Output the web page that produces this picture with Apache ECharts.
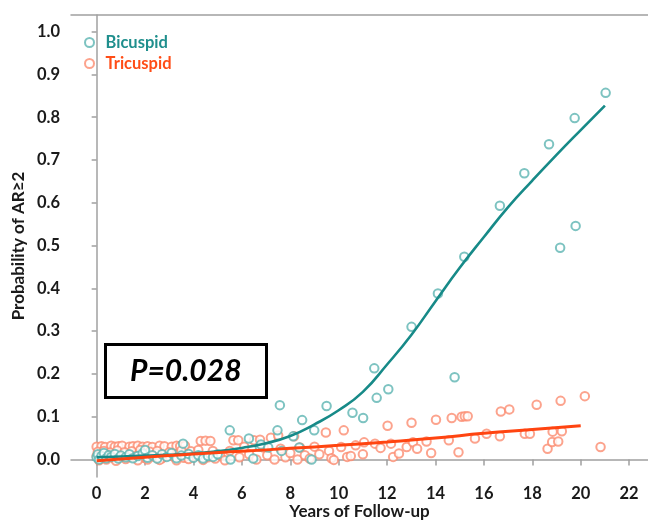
<!DOCTYPE html>
<html>
<head>
<meta charset="utf-8">
<script src="https://cdn.jsdelivr.net/npm/echarts@6/dist/echarts.min.js"></script>
<style>
  html, body { margin: 0; padding: 0; background: #fff; }
  #chart { width: 648px; height: 520px; }
</style>
</head>
<body>
<div id="chart"></div>
<script>
// tick labels
var xTicks = [0, 2, 4, 6, 8, 10, 12, 14, 16, 18, 20, 22];
var yTicks = [0, 0.1, 0.2, 0.3, 0.4, 0.5, 0.6, 0.7, 0.8, 0.9, 1.0];

// observed points [years, probability]
var bicuspidPts = [
  [0.0,0.005],[0.05,0.012],[0.1,0.000],[0.2,0.008],[0.3,0.015],[0.4,0.003],[0.5,0.010],[0.6,0.006],
  [0.75,0.013],[0.9,0.002],[1.0,0.009],[1.2,0.005],[1.35,0.012],[1.5,0.003],[1.7,0.008],[1.9,0.014],
  [2.0,0.022],[2.1,0.004],[2.3,0.010],[2.5,0.002],[2.7,0.012],[2.9,0.006],[3.1,0.015],[3.3,0.003],
  [3.5,0.009],[3.57,0.037],[3.8,0.013],[4.0,0.004],[4.2,0.010],[4.4,0.002],[4.6,0.008],[4.81,0.006],
  [5.0,0.012],[5.5,0.068],[5.53,0.000],[6.29,0.049],[6.47,0.002],[6.74,0.030],[6.79,0.035],[7.09,0.028],
  [7.47,0.068],[7.57,0.127],[7.64,0.020],[8.12,0.054],[8.37,0.028],[8.49,0.092],[8.88,0.000],[8.99,0.068],
  [9.50,0.125],[10.57,0.109],[11.01,0.097],[11.47,0.213],[11.57,0.144],[12.05,0.164],[13.01,0.310],
  [14.10,0.388],[14.79,0.192],[15.19,0.474],[16.66,0.593],[17.67,0.669],[18.69,0.737],[19.15,0.495],
  [19.75,0.798],[19.79,0.546],[21.03,0.857]
];
var tricuspidPts = [
  [0.0,0.030],[0.2,0.031],[0.35,0.029],[0.6,0.032],[0.75,0.030],[0.9,0.031],[1.05,0.032],[1.35,0.030],
  [1.5,0.031],[1.7,0.032],[1.9,0.030],[2.1,0.031],[2.3,0.029],[2.6,0.032],[2.8,0.031],[3.1,0.030],
  [3.3,0.032],[3.45,0.031],[3.65,0.032],[4.3,0.043],[4.5,0.044],[4.7,0.043],
  [0.05,0.018],[0.3,0.020],[0.55,0.016],[0.85,0.021],[1.15,0.017],[1.45,0.019],[1.8,0.022],[2.2,0.018],
  [2.5,0.020],[3.0,0.017],[3.5,0.021],[3.9,0.019],[4.2,0.022],[4.8,0.020],
  [0.0,0.008],[0.25,0.006],[0.5,0.009],[0.7,0.004],[1.0,0.007],[1.3,0.005],[1.6,0.008],[1.95,0.004],
  [2.35,0.007],[2.7,0.003],[3.2,0.006],[3.6,0.004],[4.0,0.007],[4.6,0.005],
  [0.1,-0.002],[0.4,0.000],[0.8,-0.003],[1.2,0.001],[1.7,-0.002],[2.1,0.000],[2.6,-0.001],[3.3,-0.002],
  [3.8,0.001],[4.4,-0.001],[4.9,0.002],
  [5.1,0.010],[5.3,-0.002],[5.5,0.020],[5.65,0.045],[5.85,0.045],[5.9,0.005],[6.1,0.030],[6.3,0.012],
  [6.5,0.045],[6.6,0.000],[6.75,0.046],[6.9,0.028],[7.05,0.010],[7.2,0.051],[7.35,0.000],[7.5,0.056],
  [7.6,0.025],[7.8,0.005],[8.0,0.015],[8.16,0.054],[8.3,0.000],[8.4,0.028],[8.6,0.010],[8.8,0.002],
  [9.0,0.030],[9.2,0.012],[9.47,0.063],[9.6,0.020],[9.7,0.003],[9.8,-0.001],
  [10.1,0.029],[10.21,0.068],[10.35,0.006],[10.5,0.008],[10.7,0.033],[11.0,0.012],[11.05,0.040],
  [11.5,0.037],[11.73,0.027],[12.02,0.079],[12.16,0.037],[12.25,0.006],[12.49,0.014],[12.81,0.029],
  [13.01,0.086],[13.07,0.040],[13.24,0.025],[13.63,0.042],[13.82,0.015],[14.02,0.093],[14.55,0.045],
  [14.67,0.097],[14.95,0.017],[15.08,0.100],[15.21,0.101],[15.33,0.101],[15.63,0.049],[16.11,0.060],
  [16.66,0.054],[16.70,0.112],[17.05,0.117],[17.69,0.060],[17.9,0.060],[18.18,0.128],[18.63,0.025],
  [18.82,0.041],[18.84,0.065],[19.07,0.042],[19.17,0.137],[19.22,0.066],[20.17,0.148],[20.82,0.029]
];

// fitted curves
var bicuspidFit = [
  [0,0.005],[1,0.007],[2,0.009],[3,0.011],[4,0.014],[5,0.019],[6,0.027],[7,0.038],[8,0.055],
  [9,0.082],[10,0.115],[11,0.158],[12,0.222],[13,0.291],[14,0.370],[15,0.448],[16,0.520],
  [17,0.590],[18,0.652],[19,0.712],[20,0.770],[21,0.827]
];
var tricuspidFit = [
  [0,-0.003],[2,0.005],[4,0.013],[6,0.019],[8,0.026],[10,0.033],[12,0.041],[14,0.050],
  [16,0.061],[18,0.070],[20,0.079]
];

var pText = 'P=0.028';

var chart = echarts.init(document.getElementById('chart'));

var axisGrey = '#a0a0a0';
var labelFont = { fontFamily: 'Lato', fontWeight: 'bold', fontSize: 16.5, color: '#1a1a1a' };
var nameFont = { fontFamily: 'Lato', fontWeight: 'bold', fontSize: 17, color: '#1a1a1a' };

var option = {
  animation: false,
  backgroundColor: '#fff',
  grid: { left: 71, top: 15, right: 0, bottom: 43, outerBoundsMode: 'none', containLabel: false },
  title: {
    text: pText,
    left: 105, top: 344,
    padding: [9, 25],
    borderColor: '#000', borderWidth: 3,
    textStyle: { fontFamily: 'Lato', fontWeight: 'bold', fontStyle: 'italic', fontSize: 30, lineHeight: 36, color: '#000' }
  },
  legend: {
    orient: 'vertical',
    left: 79, top: 29,
    itemWidth: 22, itemHeight: 9, itemGap: 4,
    textStyle: { fontFamily: 'Lato', fontWeight: 'bold', fontSize: 16.5 },
    data: [
      { name: 'Bicuspid', textStyle: { color: '#1f8f8d' } },
      { name: 'Tricuspid', textStyle: { color: '#ff4d17' } }
    ]
  },
  xAxis: [{
    type: 'value',
    min: -1.06, max: 22.78,
    name: 'Years of Follow-up',
    nameLocation: 'middle', nameGap: 26, nameMoveOverlap: false,
    nameTextStyle: nameFont,
    axisLine: { lineStyle: { color: axisGrey, width: 1.5 } },
    axisTick: { show: true, length: 6, lineStyle: { color: axisGrey, width: 1.5 }, customValues: xTicks },
    axisLabel: Object.assign({ margin: 8, customValues: xTicks }, labelFont),
    splitLine: { show: false }
  }, {
    type: 'value', position: 'top',
    min: -1.06, max: 22.78,
    axisLine: { show: true, lineStyle: { color: axisGrey, width: 1.5 } },
    axisTick: { show: false }, axisLabel: { show: false }, splitLine: { show: false }
  }],
  yAxis: {
    type: 'value',
    min: -0.041, max: 1.039,
    name: 'Probability of AR\u22652',
    nameLocation: 'middle', nameGap: 44, nameMoveOverlap: false,
    nameTextStyle: nameFont,
    axisLine: { show: true, lineStyle: { color: axisGrey, width: 1.5 } },
    axisTick: { show: true, length: 5, lineStyle: { color: axisGrey, width: 1.5 }, customValues: yTicks },
    axisLabel: Object.assign({ margin: 11, customValues: yTicks, formatter: function (v) { return v.toFixed(1); } }, labelFont),
    splitLine: { show: false }
  },
  series: [
    {
      name: 'Tricuspid', type: 'scatter', symbol: 'emptyCircle', symbolSize: 8.5,
      itemStyle: { color: '#fb8c70', borderColor: '#fb8c70', borderWidth: 1.3 },
      data: tricuspidPts
    },
    {
      name: 'Bicuspid', type: 'scatter', symbol: 'emptyCircle', symbolSize: 8.5,
      itemStyle: { color: '#5cb4b2', borderColor: '#5cb4b2', borderWidth: 1.3 },
      data: bicuspidPts
    },
    {
      name: 'bicuspid fit', type: 'line', smooth: true, showSymbol: false,
      lineStyle: { color: '#178a88', width: 2.6 },
      data: bicuspidFit
    },
    {
      name: 'tricuspid fit', type: 'line', smooth: true, showSymbol: false,
      lineStyle: { color: '#ff4410', width: 3 },
      data: tricuspidFit
    }
  ]
};

chart.setOption(option);
</script>
</body>
</html>
